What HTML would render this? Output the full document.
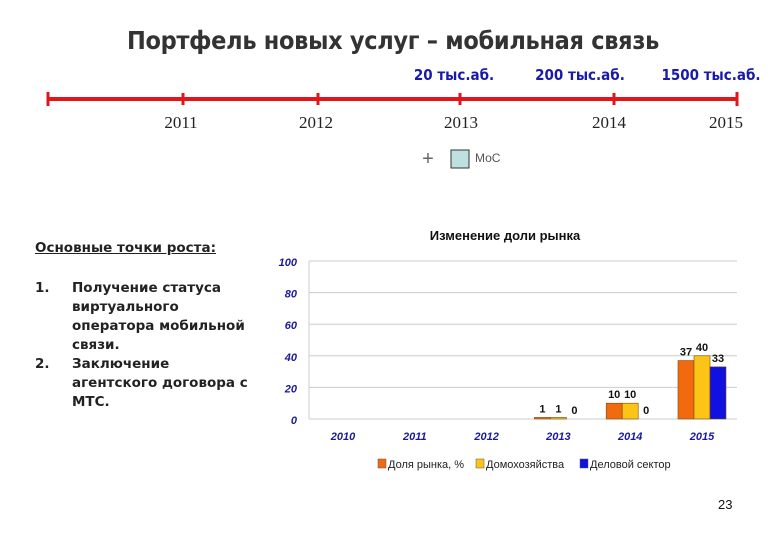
<!DOCTYPE html>
<html><head><meta charset="utf-8"><style>
body{margin:0;width:780px;height:540px;background:#fff;position:relative;overflow:hidden;font-family:"Liberation Sans","DejaVu Sans",sans-serif}
.a{position:absolute;white-space:nowrap}
</style></head><body>
<div class="a" style="left:0;width:786px;top:26px;text-align:center;font-size:25px;font-weight:bold;color:#333;font-family:'DejaVu Sans Condensed','DejaVu Sans',sans-serif;letter-spacing:-0.3px">Портфель новых услуг – мобильная связь</div>
<svg class="a" style="left:0;top:0" width="780" height="540">
<line x1="48" y1="99" x2="737" y2="99" stroke="#e0161b" stroke-width="4"/>
<g stroke="#e0161b" stroke-width="3">
<line x1="48" y1="92" x2="48" y2="106"/><line x1="183" y1="93" x2="183" y2="105"/><line x1="318" y1="93" x2="318" y2="105"/><line x1="460" y1="93" x2="460" y2="105"/><line x1="614" y1="93" x2="614" y2="105"/><line x1="737" y1="92" x2="737" y2="106"/></g>
<g font-family="Liberation Serif,serif" font-size="17" fill="#222" text-anchor="middle">
<text x="181" y="128">2011</text><text x="316" y="128">2012</text><text x="461" y="128">2013</text><text x="609" y="128">2014</text><text x="726" y="128">2015</text></g>
<g font-family="DejaVu Sans Condensed,DejaVu Sans,sans-serif" font-size="15" font-weight="bold" fill="#1a1aaa" text-anchor="middle">
<text x="454" y="80">20 тыс.аб.</text><text x="580" y="80">200 тыс.аб.</text><text x="711" y="80">1500 тыс.аб.</text></g>
<text x="428" y="165" font-size="20" fill="#666" text-anchor="middle">+</text>
<rect x="451" y="150" width="18" height="18" fill="#bfe0e0" stroke="#333"/>
<text x="475" y="162" font-size="12" fill="#555">МоС</text>
</svg>
<div class="a" style="left:35px;top:240px;font-size:13.5px;font-weight:bold;font-family:'DejaVu Sans',sans-serif;text-decoration:underline;color:#222">Основные точки роста:</div>
<div class="a" style="left:35px;top:279px;font-size:13.5px;font-weight:bold;font-family:'DejaVu Sans',sans-serif;line-height:19px;color:#222">
<div style="position:absolute;left:0;top:0">1.</div><div style="position:absolute;left:0;top:76px">2.</div>
<div style="position:absolute;left:37px;top:0">Получение статуса<br>виртуального<br>оператора мобильной<br>связи.<br>Заключение<br>агентского договора с<br>МТС.</div></div>
<svg id="chart" class="a" style="left:0;top:0" width="780" height="540"></svg>
<div class="a" style="left:718px;top:497px;font-size:13px;color:#111">23</div>
<script>
const categories=["2010","2011","2012","2013","2014","2015"];
const shareValues=[null,null,null,1,10,37];
const householdValues=[null,null,null,1,10,40];
const businessValues=[null,null,null,0,0,33];
const yTicks=[0,20,40,60,80,100];
const seriesNames=["Доля рынка, %","Домохозяйства","Деловой сектор"];
const colors=["#f26a10","#fcc416","#1010e0"];
const svg=document.getElementById('chart');const NS="http://www.w3.org/2000/svg";
function el(t,a,txt){const e=document.createElementNS(NS,t);for(const k in a)e.setAttribute(k,a[k]);if(txt!=null)e.textContent=txt;svg.appendChild(e);return e;}
const y=v=>419-v*1.58;const x=i=>343+i*71.8;const bw=16;
let t=el('text',{x:505,y:240,'font-size':13,'font-weight':'bold','text-anchor':'middle',fill:'#111'},'Изменение доли рынка');


yTicks.forEach(v=>{
 if(v>0){const g=el('line',{x1:309,x2:737,y1:y(v),y2:y(v),stroke:'#ccc'});
 
 }
 const l=el('text',{x:297,y:y(v)+5,'font-size':11,'font-weight':'bold','font-style':'italic','text-anchor':'end',fill:'#1a1a99'},v);
 
 
});
const ax=el('line',{x1:309,x2:309,y1:261,y2:419,stroke:'#ccc'});


const bx=el('line',{x1:309,x2:737,y1:419,y2:419,stroke:'#ccc'});


categories.forEach((c,i)=>{
 const l=el('text',{x:x(i),y:440,'font-size':11,'font-weight':'bold','font-style':'italic','text-anchor':'middle',fill:'#1a1a99'},c);
 
 
});
[shareValues,householdValues,businessValues].forEach((s,si)=>{
 s.forEach((v,i)=>{
  if(v==null)return;
  const bxx=x(i)-24+si*bw;
  if(v>0){const r=el('rect',{x:bxx,y:y(v),width:bw,height:y(0)-y(v),fill:colors[si],stroke:'#7a4a10','stroke-width':0.6});
  
  }
  const lb=el('text',{x:bxx+bw/2,y:y(v)-5,'font-size':11,'font-weight':'bold','text-anchor':'middle',fill:'#111'},v);
  
  
 });
});
let lx=378;
seriesNames.forEach((n,i)=>{
 const r=el('rect',{x:lx,y:459,width:8,height:9,fill:colors[i],stroke:'#555','stroke-width':0.5});
 
 
 const tx=el('text',{x:lx+10,y:468,'font-size':11,fill:'#222'},n);
 
 
 lx+=[98,104,0][i];
});
</script>
</body></html>
